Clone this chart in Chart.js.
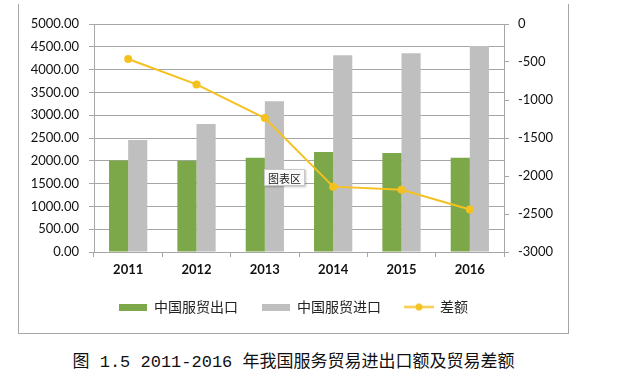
<!DOCTYPE html>
<html>
<head>
<meta charset="utf-8">
<script src="https://cdn.jsdelivr.net/npm/chart.js@4/dist/chart.umd.min.js"></script>
<style>
  html, body { margin: 0; padding: 0; background: #fff; width: 620px; height: 380px; overflow: hidden; }
  #frame { position: absolute; left: 18px; top: 4px; width: 549px; height: 329px;
           border-left: 1px solid #a6a6a6; border-right: 1px solid #a6a6a6; border-bottom: 1px solid #a6a6a6; }
  #frame canvas { position: absolute; left: 0; top: 0; }
  #tip { position: absolute; left: 264px; top: 169px; padding: 0 3px; height: 15px; line-height: 15px;
         font: 11px "Noto Sans CJK SC", sans-serif; color: #222; background: #fbfbfb;
         border: 1px solid #c8c8c8; box-shadow: 1px 1px 2px rgba(0,0,0,0.25); }
  #caption { position: absolute; left: 19px; width: 549px; top: 347px; text-align: center;
             font: 17px "Liberation Mono", "Noto Sans CJK SC", monospace; color: #111; white-space: pre; }
</style>
</head>
<body>
<div id="frame"><canvas id="c" width="549" height="329"></canvas></div>
<div id="tip">图表区</div>
<div id="caption">图 1.5 2011-2016 年我国服务贸易进出口额及贸易差额</div>
<script>
const categories = ['2011', '2012', '2013', '2014', '2015', '2016'];
const exportValues = [2005, 2003, 2068, 2192, 2170, 2068];
const importValues = [2456, 2807, 3304, 4313, 4357, 4518];
const balanceValues = [-460, -795, -1237, -2140, -2180, -2440];
const seriesNames = ['中国服贸出口', '中国服贸进口', '差额'];
const leftTicks = { min: 0, max: 5000, step: 500 };
const rightTicks = { min: -3000, max: 0, step: 500 };

const GREEN = '#7ca84a';
const GREY = '#bfbfbf';
const GOLD = '#f4c11f';
const GRID = '#a6a6a6';

function swatch(w, h, fn) {
  const cv = document.createElement('canvas');
  cv.width = w; cv.height = h;
  fn(cv.getContext('2d'));
  return cv;
}
const legendMarks = [
  swatch(28, 7, g => { g.fillStyle = GREEN; g.fillRect(0, 0, 28, 7); }),
  swatch(28, 7, g => { g.fillStyle = GREY; g.fillRect(0, 0, 28, 7); }),
  swatch(30, 9, g => {
    g.strokeStyle = GOLD; g.lineWidth = 2;
    g.beginPath(); g.moveTo(0, 4.5); g.lineTo(30, 4.5); g.stroke();
    g.fillStyle = GOLD; g.beginPath(); g.arc(15, 4.5, 3.5, 0, Math.PI * 2); g.fill();
  })
];

new Chart(document.getElementById('c'), {
  type: 'bar',
  data: {
    labels: categories,
    datasets: [
      { label: seriesNames[0], data: exportValues, backgroundColor: GREEN, yAxisID: 'y', order: 1,
        categoryPercentage: 0.56, barPercentage: 1.0 },
      { label: seriesNames[1], data: importValues, backgroundColor: GREY, yAxisID: 'y', order: 1,
        categoryPercentage: 0.56, barPercentage: 1.0 },
      { type: 'line', label: seriesNames[2], data: balanceValues, yAxisID: 'y1', order: 0,
        borderColor: GOLD, backgroundColor: GOLD, borderWidth: 2, pointRadius: 4,
        pointBackgroundColor: GOLD, pointBorderWidth: 0, tension: 0 }
    ]
  },
  options: {
    responsive: false,
    animation: false,
    events: [],
    layout: { padding: { top: 20, left: 0, right: 0, bottom: 9 } },
    plugins: {
      tooltip: { enabled: false },
      legend: {
        position: 'bottom',
        labels: {
          usePointStyle: true,
          pointStyleWidth: 28,
          padding: 24,
          color: '#222',
          font: { family: '"Noto Sans CJK SC", sans-serif', size: 14 },
          sort: (a, b) => a.datasetIndex - b.datasetIndex,
          generateLabels: chart => {
            const items = Chart.defaults.plugins.legend.labels.generateLabels(chart);
            items.forEach(it => { it.pointStyle = legendMarks[it.datasetIndex]; it.lineWidth = 0; });
            return items;
          }
        }
      }
    },
    scales: {
      x: {
        offset: true,
        grid: { offset: true, drawOnChartArea: false, drawTicks: true, tickLength: 5, color: GRID },
        border: { display: true, color: GRID },
        ticks: { color: '#111', padding: 5, font: { family: 'Lato', size: 13, weight: 'bold' } },
        afterFit: s => { s.height = 24; }
      },
      y: {
        position: 'left',
        min: leftTicks.min, max: leftTicks.max,
        grid: { color: GRID, tickLength: 5, drawTicks: true },
        border: { display: true, color: GRID },
        ticks: { stepSize: leftTicks.step, color: '#111', padding: 10,
                 font: { family: 'Lato', size: 13 }, callback: v => Number(v).toFixed(2) },
        afterFit: s => { s.width = 75; }
      },
      y1: {
        position: 'right',
        min: rightTicks.min, max: rightTicks.max,
        grid: { drawOnChartArea: false, color: GRID, tickLength: 5, drawTicks: true },
        border: { display: true, color: GRID },
        ticks: { stepSize: rightTicks.step, color: '#111', padding: 9,
                 font: { family: 'Lato', size: 13 }, callback: v => String(v) },
        afterFit: s => { s.width = 64; }
      }
    }
  }
});
</script>
</body>
</html>
